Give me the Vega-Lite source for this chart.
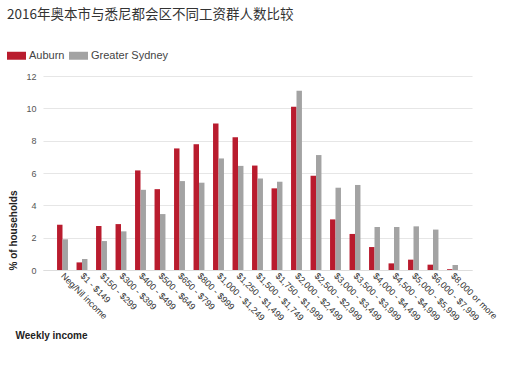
{
  "$schema": "https://vega.github.io/schema/vega-lite/v6.json",
  "autosize": "none",
  "width": 429,
  "height": 194,
  "padding": {"left": 43, "top": 76, "right": 57, "bottom": 122},
  "title": {
    "text": "2016年奥本市与悉尼都会区不同工资群人数比较",
    "anchor": "start",
    "frame": "group",
    "dx": -36,
    "offset": 25,
    "font": "Noto Sans CJK SC",
    "fontSize": 13.5,
    "fontWeight": "normal",
    "color": "#333333"
  },
  "data": {
    "values": [
      {"income": "Neg/Nil income", "series": "Auburn", "value": 2.8},
      {"income": "Neg/Nil income", "series": "Greater Sydney", "value": 1.9},
      {"income": "$1 - $149", "series": "Auburn", "value": 0.47},
      {"income": "$1 - $149", "series": "Greater Sydney", "value": 0.68},
      {"income": "$150 - $299", "series": "Auburn", "value": 2.72},
      {"income": "$150 - $299", "series": "Greater Sydney", "value": 1.79},
      {"income": "$300 - $399", "series": "Auburn", "value": 2.84},
      {"income": "$300 - $399", "series": "Greater Sydney", "value": 2.39},
      {"income": "$400 - $499", "series": "Auburn", "value": 6.16},
      {"income": "$400 - $499", "series": "Greater Sydney", "value": 4.96},
      {"income": "$500 - $649", "series": "Auburn", "value": 5.0},
      {"income": "$500 - $649", "series": "Greater Sydney", "value": 3.46},
      {"income": "$650 - $799", "series": "Auburn", "value": 7.52},
      {"income": "$650 - $799", "series": "Greater Sydney", "value": 5.5},
      {"income": "$800 - $999", "series": "Auburn", "value": 7.78},
      {"income": "$800 - $999", "series": "Greater Sydney", "value": 5.4},
      {"income": "$1,000 - $1,249", "series": "Auburn", "value": 9.06},
      {"income": "$1,000 - $1,249", "series": "Greater Sydney", "value": 6.9},
      {"income": "$1,250 - $1,499", "series": "Auburn", "value": 8.21},
      {"income": "$1,250 - $1,499", "series": "Greater Sydney", "value": 6.44},
      {"income": "$1,500 - $1,749", "series": "Auburn", "value": 6.46},
      {"income": "$1,500 - $1,749", "series": "Greater Sydney", "value": 5.66},
      {"income": "$1,750 - $1,999", "series": "Auburn", "value": 5.05},
      {"income": "$1,750 - $1,999", "series": "Greater Sydney", "value": 5.46},
      {"income": "$2,000 - $2,499", "series": "Auburn", "value": 10.1},
      {"income": "$2,000 - $2,499", "series": "Greater Sydney", "value": 11.08},
      {"income": "$2,500 - $2,999", "series": "Auburn", "value": 5.83},
      {"income": "$2,500 - $2,999", "series": "Greater Sydney", "value": 7.11},
      {"income": "$3,000 - $3,499", "series": "Auburn", "value": 3.13},
      {"income": "$3,000 - $3,499", "series": "Greater Sydney", "value": 5.09},
      {"income": "$3,500 - $3,999", "series": "Auburn", "value": 2.23},
      {"income": "$3,500 - $3,999", "series": "Greater Sydney", "value": 5.26},
      {"income": "$4,000 - $4,499", "series": "Auburn", "value": 1.42},
      {"income": "$4,000 - $4,499", "series": "Greater Sydney", "value": 2.66},
      {"income": "$4,500 - $4,999", "series": "Auburn", "value": 0.41},
      {"income": "$4,500 - $4,999", "series": "Greater Sydney", "value": 2.66},
      {"income": "$5,000 - $5,999", "series": "Auburn", "value": 0.64},
      {"income": "$5,000 - $5,999", "series": "Greater Sydney", "value": 2.7},
      {"income": "$6,000 - $7,999", "series": "Auburn", "value": 0.33},
      {"income": "$6,000 - $7,999", "series": "Greater Sydney", "value": 2.5},
      {"income": "$8,000 or more", "series": "Auburn", "value": 0.05},
      {"income": "$8,000 or more", "series": "Greater Sydney", "value": 0.31}
    ]
  },
  "mark": {"type": "bar"},
  "encoding": {
    "x": {
      "field": "income",
      "type": "nominal",
      "sort": null,
      "scale": {"paddingInner": 0.44, "paddingOuter": 0.72},
      "axis": {
        "title": "Weekly income",
        "titleAnchor": "start",
        "titleAlign": "left",
        "titleX": -28,
        "titleY": 60,
        "titleFontSize": 10,
        "titleFontWeight": "bold",
        "titleColor": "#222222",
        "labelAngle": 45,
        "labelAlign": "left",
        "labelBaseline": "middle",
        "labelFontSize": 9,
        "labelColor": "#333333",
        "labelPadding": 4,
        "ticks": false,
        "domain": true,
        "domainColor": "#dddddd",
        "labelOverlap": false
      }
    },
    "xOffset": {"field": "series", "type": "nominal", "sort": ["Auburn", "Greater Sydney"], "scale": {"paddingInner": 0, "paddingOuter": 0}},
    "y": {
      "field": "value",
      "type": "quantitative",
      "scale": {"domain": [0, 12], "nice": false},
      "axis": {
        "title": "% of households",
        "titleAnchor": "start",
        "titleFontSize": 10,
        "titleFontWeight": "bold",
        "titleColor": "#222222",
        "titlePadding": 7,
        "values": [0, 2, 4, 6, 8, 10, 12],
        "labelFontSize": 9,
        "labelColor": "#555555",
        "labelPadding": 7,
        "ticks": false,
        "domain": false,
        "gridColor": "#e6e6e6",
        "gridWidth": 1.2
      }
    },
    "color": {
      "field": "series",
      "type": "nominal",
      "sort": ["Auburn", "Greater Sydney"],
      "scale": {"domain": ["Auburn", "Greater Sydney"], "range": ["#b91c2e", "#a3a3a3"]},
      "legend": {
        "title": null,
        "orient": "none",
        "legendX": -36,
        "legendY": -30,
        "direction": "horizontal",
        "symbolType": "M-1,-0.42H1V0.42H-1Z",
        "symbolSize": 361,
        "symbolStrokeWidth": 0,
        "labelFontSize": 11,
        "labelColor": "#444444",
        "labelOffset": 3,
        "columnPadding": 4
      }
    }
  },
  "config": {
    "font": "Liberation Sans",
    "view": {"stroke": null},
    "background": "white"
  }
}
